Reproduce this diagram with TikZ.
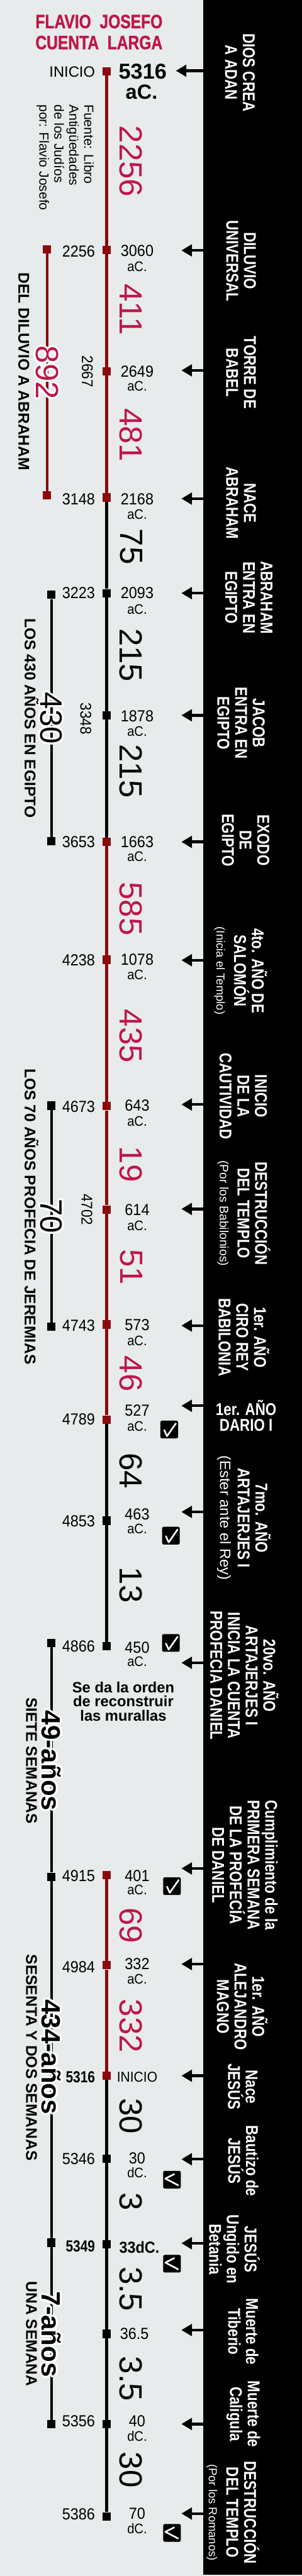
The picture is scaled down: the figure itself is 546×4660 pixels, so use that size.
\documentclass[tikz,border=0pt]{standalone}
\usepackage{fontspec}
\setmainfont{Liberation Sans}
\newfontfamily\angosta[FakeStretch=0.82]{Liberation Sans}
\newfontfamily\fechas[FakeStretch=0.92]{Liberation Sans}
\newfontfamily\titular[FakeStretch=0.8,FakeBold=1]{Liberation Sans Bold}
\usepackage{tikz}
\usetikzlibrary{arrows.meta, calc, positioning}

\definecolor{fondo}{RGB}{231,235,235}
\definecolor{ejerojo}{RGB}{140,10,12}
\definecolor{carmin}{RGB}{190,22,72}

% texto con borde blanco
\newcommand{\conhalo}[4]{%
  \foreach \ang in {0,15,...,345}
    \node[#3, text=white] at ($(#2)+(\ang:3.5pt)$) {#4};
  \node[#3] (#1) at (#2) {#4};
}

\begin{document}
\begin{tikzpicture}[
    x=1pt, y=-1pt,
    mk/.style={rectangle, minimum size=15pt, inner sep=0pt},
    mkred/.style={mk, fill=ejerojo},
    mkblack/.style={mk, fill=black},
    redaxis/.style={draw=ejerojo, line width=5pt},
    blackaxis/.style={draw=black, line width=5pt},
    evarrow/.style={-{Triangle[length=19pt,width=21pt]}, line width=5pt},
    band/.style={rotate=-90, text=white, align=center, inner sep=0pt, font=\angosta\bfseries\fontsize{31}{32}\selectfont},
    dateleft/.style={anchor=east, inner sep=0pt, font=\fechas\fontsize{29}{31}\selectfont},
    dateright/.style={inner sep=0pt, font=\fechas\fontsize{29}{31}\selectfont},
    datebold/.style={inner sep=0pt, font=\angosta\bfseries\fontsize{29}{31}\selectfont},
    era/.style={inner sep=0pt, font=\fechas\fontsize{25}{27}\selectfont},
    middate/.style={rotate=-90, inner sep=0pt, font=\fechas\fontsize{28}{30}\selectfont},
    durnum/.style={rotate=-90, inner sep=0pt, font=\fontsize{58}{60}\selectfont},
    durred/.style={durnum, text=carmin},
    leyenda/.style={rotate=-90, inner sep=0pt, font=\bfseries\fontsize{28}{30}\selectfont},
    chk/.style={rectangle, fill=black, rounded corners=3pt, minimum size=32pt, inner sep=0pt},
    chkmark/.style={draw=white, line width=3pt, line cap=round, line join=round}
]
% ==========================================
% FONDO Y FRANJA NEGRA
% ==========================================
\useasboundingbox (0,0) rectangle (546,4660);
\fill[fondo] (0,0) rectangle (546,4660);
\fill[black] (367,0) rectangle (546,4658);

\node[text=carmin, align=center, inner sep=0pt, font=\titular\fontsize{35}{38}\selectfont] (titulo) at (179,58) {FLAVIO\ \ JOSEFO\\CUENTA\ \ LARGA};

% ==========================================
% EJE PRINCIPAL
% ==========================================
\foreach \i/\y/\c in {1/129/red, 2/452/red, 3/672/red, 4/900/red, 5/1073/black, 6/1294/black,
    7/1523/red, 8/1736/red, 9/2001/red, 10/2188/red, 11/2396/red, 12/2568/red, 13/2751/black,
    14/2978/black, 15/3392/red, 16/3555/red, 17/3755/red, 18/3905/black, 19/4060/black,
    20/4222/black, 21/4385/black, 22/4552/black} {
    \node[mk\c] (m\i) at (193,\y) {};
}
\foreach \a/\b in {1/2,2/3,3/4,7/8,8/9,9/10,10/11,11/12,15/16,16/17} {
    \draw[redaxis] (m\a) -- (m\b);
}
\foreach \a/\b in {4/5,5/6,6/7,12/13,13/14,17/18,18/19,19/20,20/21,21/22} {
    \draw[blackaxis] (m\a) -- (m\b);
}

% ==========================================
% EJES DE LA IZQUIERDA
% ==========================================
\node[mkred] (l1) at (85,451) {};
\node[mkred] (l2) at (85,896) {};
\foreach \i/\y in {3/1076, 4/1522, 5/2000, 6/2400, 7/2972, 8/3395, 9/4057, 10/4385} {
    \node[mkblack] (l\i) at (93,\y) {};
}
\draw[redaxis] (l1) -- (l2);
\foreach \a/\b in {3/4,5/6,7/8,8/9,9/10} {
    \draw[blackaxis] (l\a) -- (l\b);
}

% ==========================================
% FLECHAS DESDE LA FRANJA
% ==========================================
\foreach \i/\y/\tx in {1/128/318, 2/453/328, 3/670/328, 4/902/328, 5/1073/328, 6/1294/328,
    7/1523/328, 8/1737/328, 9/1998/328, 10/2187/328, 11/2398/328, 12/2543/328, 13/2735/328,
    14/3008/328, 15/3380/328, 16/3553/328, 17/3755/328, 18/3906/328, 19/4058/328,
    20/4215/328, 21/4385/328, 22/4547/328} {
    \coordinate (b\i) at (367,\y);
    \coordinate (t\i) at (\tx,\y);
    \draw[evarrow] (b\i) -- (t\i);
}

% ==========================================
% FECHAS
% ==========================================
\node[anchor=east, inner sep=0pt, font=\fontsize{27}{29}\selectfont] (inicioizq) at (172,130) {INICIO};
\foreach \y/\t in {455/2256, 903/3148, 1073/3223, 1523/3653, 1737/4238, 2002/4673, 2398/4743,
    2568/4789, 2752/4853, 2978/4866, 3393/4915, 3558/4984, 3905/5346, 4380/5356, 4548/5386} {
    \node[dateleft] (izq\t) at (172,\y) {\t};
}
\node[datebold, anchor=east] (izq5316) at (172,3757) {5316};
\node[datebold, anchor=east] (izq5349) at (172,4063) {5349};

\node[inner sep=0pt, font=\bfseries\fontsize{39}{40}\selectfont] (der5316) at (258,129) {5316};
\node[inner sep=0pt, font=\bfseries\fontsize{37}{38}\selectfont] (eraini) at (256,166) {aC.};
\foreach \y/\t/\ys/\s in {454/3060/482/aC., 672/2649/699/aC., 903/2168/931/aC., 1073/2093/1102/aC.,
    1296/1878/1323/aC., 1523/1663/1549/aC., 1736/1078/1763/aC., 2000/643/2028/aC.,
    2189/614/2217/aC., 2397/573/2426/aC., 2552/527/2580/aC., 2739/463/2766/aC.,
    2980/450/3006/aC., 3393/401/3419/aC., 3553/332/3580/aC., 3904/30/3930/dC.,
    4380/40/4407/dC., 4547/70/4574/dC.} {
    \node[dateright] (der\t) at (248,\y) {\t};
    \node[era] (era\t) at (248,\ys) {\s};
}
\node[dateright, font=\fechas\fontsize{26}{28}\selectfont] (inicioder) at (248,3757) {INICIO};
\node[datebold, font=\fechas\bfseries\fontsize{29}{31}\selectfont] (der33) at (252,4065) {33dC.};
\node[dateright] (der365) at (243,4222) {36.5};

\node[middate] (med2667) at (158,672) {2667};
\node[middate] (med3348) at (155,1300) {3348};
\node[middate] (med4702) at (157,2188) {4702};

% ==========================================
% DURACIONES
% ==========================================
\foreach \y/\n in {292/2256, 560/411, 787/481, 1644/585, 1874/435, 2106/19, 2292/51, 2485/46,
    3483/69, 3665/332} {
    \node[durred] (dr\n) at (237,\y) {\n};
}
\foreach \y/\n [count=\k] in {989/75, 1185/215, 1395/215, 2661/64, 2867/13, 3828/30, 3983/3,
    4141/3.5, 4303/3.5, 4468/30} {
    \node[durnum] (dn\k) at (237,\y) {\n};
}

% ==========================================
% EVENTOS (FRANJA)
% ==========================================
\node[band] (ev1) at (434,131) {DIOS CREA\\A ADAN};
\node[band] (ev2) at (436,472) {DILUVIO\\UNIVERSAL};
\node[band] (ev3) at (436,674) {TORRE DE\\BABEL};
\node[band] (ev4) at (436,910) {NACE\\ABRAHAM};
\node[band] (ev5) at (450,1081) {ABRAHAM\\ENTRA EN\\EGIPTO};
\node[band] (ev6) at (436,1308) {JACOB\\ENTRA EN\\EGIPTO};
\node[band] (ev7) at (444,1520) {EXODO\\DE\\EGIPTO};
\node[band] (ev8) at (435,1756) {4to. AÑO DE\\SALOMÓN\\{\normalfont\fontsize{21}{24}\selectfont (Inicia el Templo)}};
\node[band] (ev9) at (440,1983) {INICIO\\DE LA\\CAUTIVIDAD};
\node[band] (ev10) at (441,2195) {DESTRUCCIÓN\\DEL TEMPLO\\{\normalfont\fontsize{22}{25}\selectfont (Por los Babilonios)}};
\node[band] (ev11) at (441,2419) {1er. AÑO\\CIRO REY\\BABILONIA};
\node[band, rotate=90, font=\angosta\bfseries\fontsize{31}{29}\selectfont] (ev12) at (445,2561) {1er. AÑO\\DARIO I};
\node[band] (ev13) at (441,2746) {7mo. AÑO\\ARTAJERJES I\\{\normalfont\fontsize{27}{30}\selectfont (Ester ante el Rey)}};
\node[band] (ev14) at (442,3031) {20vo. AÑO\\ARTAJERJES I\\INICIA LA CUENTA\\PROFECIA DANIEL};
\node[band] (ev15) at (443,3374) {Cumplimiento de la\\PRIMERA SEMANA\\DE LA PROFECÍA\\DE DANIEL};
\node[band] (ev16) at (438,3630) {1er. AÑO\\ALEJANDRO\\MAGNO};
\node[band] (ev17) at (439,3775) {Nace\\JESÚS};
\node[band] (ev18) at (440,3909) {Bautizo de\\JESÚS};
\node[band] (ev19) at (424,4069) {JESÚS\\Ungido en\\Betania};
\node[band] (ev20) at (440,4218) {Muerte de\\Tiberio};
\node[band] (ev21) at (440,4367) {Muerte de\\Caligula};
\node[band] (ev22) at (421,4545) {DESTRUCCIÓN\\DEL TEMPLO\\{\normalfont\fontsize{21}{24}\selectfont (Por los Romanos)}};

% ==========================================
% NOTAS
% ==========================================
\node[rotate=-90, align=left, inner sep=0pt, font=\fontsize{24}{27}\selectfont] (fuente) at (118,285) {Fuente: Libro\\Antigüedades\\de los Judíos\\por: Flavio Josefo};
\node[align=center, inner sep=0pt, font=\bfseries\fontsize{27}{25.5}\selectfont] (orden) at (223,3078) {Se da la orden\\de reconstruir\\las murallas};

\node[leyenda] (ley1) at (43,672) {DEL DILUVIO A ABRAHAM};
\node[leyenda] (ley2) at (57,1299) {LOS 430 AÑOS EN EGIPTO};
\node[leyenda] (ley3) at (57,2201) {LOS 70 AÑOS PROFECIA DE JEREMIAS};
\node[leyenda] (ley4) at (57,3185) {SIETE SEMANAS};
\node[leyenda] (ley5) at (57,3722) {SESENTA Y DOS SEMANAS};
\node[leyenda] (ley6) at (57,4222) {UNA SEMANA};

\conhalo{h892}{85,674}{durnum, text=carmin}{892}
\conhalo{h430}{93,1299}{durnum, font=\fontsize{56}{58}\selectfont}{430}
\conhalo{h70}{93,2200}{durnum, font=\fontsize{56}{58}\selectfont}{70}
\conhalo{h49}{93,3185}{durnum, font=\bfseries\fontsize{48}{50}\selectfont}{49-años}
\conhalo{h434}{93,3721}{durnum, font=\bfseries\fontsize{48}{50}\selectfont}{434-años}
\conhalo{h7}{93,4223}{durnum, font=\bfseries\fontsize{48}{50}\selectfont}{7-años}

% ==========================================
% MARCAS DE VERIFICACION
% ==========================================
\foreach \k/\x/\y in {1/306/2586, 2/309/2778, 3/309/2972, 4/311/3412, 5/311/3943, 6/311/4095, 7/311/4582} {
    \node[chk] (c\k) at (\x,\y) {};
}
\foreach \k in {1,...,4} {
    \draw[chkmark] ([shift={(-9,1)}]c\k.center) -- ++(5,11) -- ++(16,-23);
}
\foreach \k in {5,6,7} {
    \draw[chkmark] ([shift={(4,-10)}]c\k.center) -- ++(-16,8) -- ++(23,12);
}

\end{tikzpicture}
\end{document}
